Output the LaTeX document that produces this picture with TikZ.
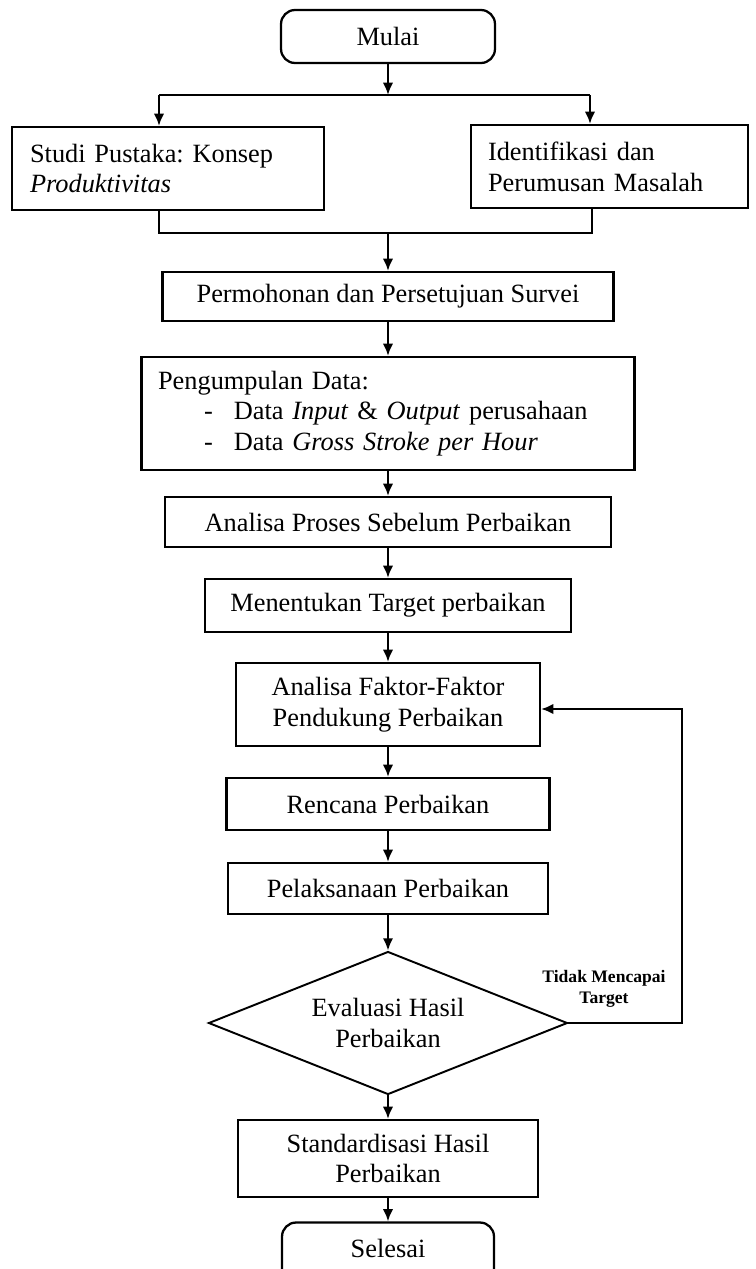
\documentclass[tikz,border=0pt]{standalone}
\usepackage{fontspec}
\setmainfont{Liberation Serif}
\usetikzlibrary{shapes.geometric,arrows.meta}
\frenchspacing

\begin{document}
\begin{tikzpicture}[x=0.02cm,y=-0.02cm,
  box/.style={draw,line width=1.3pt,inner sep=0pt,align=center,font=\fontsize{15}{17.5}\selectfont},
  endbox/.style={box,rounded corners=8pt},
  flow/.style={line width=1.3pt,-{Latex[length=7pt,width=6pt]}},
  line/.style={line width=1.3pt}]

\useasboundingbox (0,0) rectangle (756,1269);

% Mulai
\node[endbox,minimum width=4.28cm,minimum height=1.06cm] (mulai) at (388,36.5) {Mulai};

% two boxes side by side
\node[box,minimum width=6.24cm,minimum height=1.66cm,text width=5.52cm,align=left] (studi) at (168,168.5) {Studi Pustaka: Konsep\\\textit{Produktivitas}};
\node[box,minimum width=5.54cm,minimum height=1.66cm,text width=4.86cm,align=left] (ident) at (609.5,166.5) {Identifikasi dan\\Perumusan Masalah};

% main column
\node[box,minimum width=9.02cm,minimum height=0.98cm] (permohonan) at (388,296.5) {Permohonan dan Persetujuan Survei};
\node[box,minimum width=9.86cm,minimum height=2.26cm,text width=9.2cm,align=left] (pengumpulan) at (388,413.5)
  {Pengumpulan Data:\\
   \hspace*{0.92cm}-\hspace*{0.42cm}Data \textit{Input} \& \textit{Output} perusahaan\\
   \hspace*{0.92cm}-\hspace*{0.42cm}Data \textit{Gross Stroke per Hour}};
\node[box,minimum width=8.92cm,minimum height=1.0cm] (proses) at (388,522) {Analisa Proses Sebelum Perbaikan};
\node[box,minimum width=7.32cm,minimum height=1.06cm] (target) at (388,605.5) {Menentukan Target perbaikan};
\node[box,minimum width=6.08cm,minimum height=1.66cm] (faktor) at (388,704.5) {Analisa Faktor-Faktor\\Pendukung Perbaikan};
\node[box,minimum width=6.46cm,minimum height=1.04cm] (rencana) at (388,804) {Rencana Perbaikan};
\node[box,minimum width=6.4cm,minimum height=1.02cm] (pelaksanaan) at (388,888.5) {Pelaksanaan Perbaikan};
\node[box,diamond,aspect=2.5,line width=1.1pt,minimum width=7.18cm,minimum height=2.86cm] (evaluasi) at (388,1023) {Evaluasi Hasil\\Perbaikan};
\node[box,minimum width=6cm,minimum height=1.54cm] (standar) at (388,1158.5) {Standardisasi Hasil\\Perbaikan};
\node[endbox,minimum width=4.24cm,minimum height=1.3cm] (selesai) at (388,1255) {};
\node[font=\fontsize{15}{17.5}\selectfont] (selesaitext) at (388,1248) {Selesai};

% split after Mulai
\coordinate (split) at (388,95);
\coordinate (splitL) at (159,95);
\coordinate (splitR) at (590,95);
\draw[flow] (mulai) -- (split);
\draw[line] (splitL) -- (splitR);
\draw[flow] (splitL) -- (splitL |- studi.north);
\draw[flow] (splitR) -- (splitR |- ident.north);

% merge
\coordinate (mergeL) at (159,233);
\coordinate (mergeR) at (592,233);
\coordinate (merge) at (388,233);
\draw[line] (mergeL |- studi.south) -- (mergeL) -- (mergeR) -- (mergeR |- ident.south);
\draw[flow] (merge) -- (permohonan);

\draw[flow] (permohonan) -- (pengumpulan);
\draw[flow] (pengumpulan) -- (proses);
\draw[flow] (proses) -- (target);
\draw[flow] (target) -- (faktor);
\draw[flow] (faktor) -- (rencana);
\draw[flow] (rencana) -- (pelaksanaan);
\draw[flow] (pelaksanaan) -- (evaluasi);
\draw[flow] (evaluasi) -- (standar);
\draw[flow] (standar) -- (selesai);

% back to Analisa Faktor
\coordinate (backB) at (682,1023);
\coordinate (backT) at (682,709);
\draw[flow] (evaluasi.east) -- (backB) -- (backT) -- (faktor.east |- backT);
\node[font=\fontsize{10}{12}\bfseries\selectfont,align=center] (tidak) at (604,989) {Tidak Mencapai\\Target};

\end{tikzpicture}
\end{document}
